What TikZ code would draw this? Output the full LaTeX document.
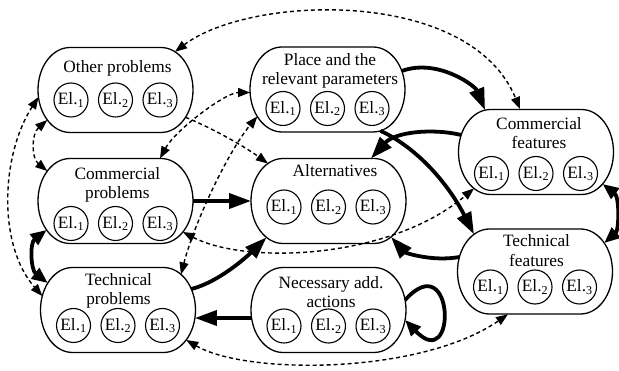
\documentclass[tikz,border=0pt]{standalone}
\usepackage{fontspec}
\setmainfont{Liberation Serif}
\newfontfamily\tnrfont{Liberation Serif}
\usetikzlibrary{arrows.meta}
\tikzset{
  boxnode/.style={minimum width=155pt, minimum height=85pt, inner sep=0pt, outer sep=0pt},
  boxline/.style={line width=1.3pt},
  ttl/.style={font=\tnrfont\fontsize{17.3}{19.5}\selectfont, align=center, inner sep=0pt},
  elc/.style={draw, circle, line width=1.1pt, minimum size=34pt, inner sep=0pt, font=\tnrfont\fontsize{17.3}{19.5}\selectfont},
  thk/.style={line width=3.8pt, -{Triangle[length=22pt,width=15pt]}},
  thkboth/.style={line width=3.8pt, {Triangle[length=16pt,width=13pt]}-{Triangle[length=16pt,width=13pt]}},
  thkloop/.style={line width=3.8pt, -{Triangle[length=16pt,width=13pt]}},
  dsh/.style={line width=1.4pt, dash pattern=on 4pt off 3pt, {Triangle[length=12pt,width=9pt]}-{Triangle[length=12pt,width=9pt]}},
  dsh1/.style={line width=1.4pt, dash pattern=on 4pt off 3pt, -{Triangle[length=12pt,width=9pt]}},
}
\begin{document}
\begin{tikzpicture}[x=1pt,y=-1pt]
\useasboundingbox (0,0) rectangle (619,371);
% boxes
\node[boxnode] (op) at (115.5,90) {};
\node[boxnode] (cp) at (115.5,201) {};
\node[boxnode] (tp) at (118,310) {};
\node[boxnode] (pl) at (327.5,89.5) {};
\node[boxnode] (al) at (328.5,201) {};
\node[boxnode] (na) at (328.5,310) {};
\node[boxnode] (cf) at (536,152) {};
\node[boxnode] (tf) at (535,271.5) {};
\foreach \b in {op,cp,tp,pl,al,na,cf,tf}{
  \draw[boxline] ([xshift=32pt]\b.north west) -- ([xshift=-32pt]\b.north east)
    arc[start angle=90, end angle=-90, x radius=32pt, y radius=42.5pt] -- ([xshift=32pt]\b.south west)
    arc[start angle=270, end angle=90, x radius=32pt, y radius=42.5pt] -- cycle;
}
% titles
\node[ttl] (opT) at (117.5,68.6) {\strut Other problems};
\node[ttl] (cpT) at (117.3,185.2) {\strut Commercial\\\strut problems};
\node[ttl] (tpT) at (118.5,290.9) {\strut Technical\\\strut problems};
\node[ttl] (plT) at (330,70.9) {\strut Place and the\\\strut relevant parameters};
\node[ttl] (alT) at (335,173.1) {\strut Alternatives};
\node[ttl] (naT) at (331,293.9) {\strut Necessary add.\\\strut actions};
\node[ttl] (cfT) at (539,135.2) {\strut Commercial\\\strut features};
\node[ttl] (tfT) at (536.5,252.6) {\strut Technical\\\strut features};
% element circles
\foreach \b/\x/\y in {op/115.5/100, cp/115.5/223.5, tp/118/325.5, pl/327.5/108.5, al/328.5/207, na/328.5/326, cf/536/173.5, tf/535/287}{
  \node[elc] (\b1) at (\x-44.5,\y) {El.\textsubscript{1}};
  \node[elc] (\b2) at (\x,\y) {El.\textsubscript{2}};
  \node[elc] (\b3) at (\x+44.5,\y) {El.\textsubscript{3}};
}
% dashed connectors
\draw[dsh] ([shift={(59.5,-38.2)}]op.center) .. controls +(75,-57) and +(-50,-122) .. ([shift={(-16,-43)}]cf.center);
\draw[dsh] ([shift={(-77,7)}]op.center) .. controls +(-37.5,58) and +(-45,-51) .. ([shift={(-75.7,-14)}]tp.center);
\draw[dsh] ([shift={(-68.2,30)}]op.center) .. controls +(-16,14) and +(-16,-13) .. ([shift={(-68.2,-30)}]cp.center);
\draw[dsh1] ([shift={(70,27.3)}]op.center) .. controls +(25,10) and +(-25,-18) .. ([shift={(-60.5,-37.5)}]al.center);
\draw[dsh] ([shift={(44.5,-42.5)}]cp.center) .. controls +(15,-28) and +(-25,0) .. ([shift={(-77.4,3)}]pl.center);
\draw[dsh] ([shift={(63,-35.6)}]tp.center) .. controls +(14,-54) and +(-28,33.5) .. ([shift={(-70.2,27)}]pl.center);
\draw[dsh] ([shift={(67.4,31)}]cp.center) .. controls +(63.5,33) and +(-84,71) .. ([shift={(-62,36.4)}]cf.center);
\draw[dsh] ([shift={(68.2,30)}]tp.center) .. controls +(60,35) and +(-88,60.5) .. ([shift={(-27,42.8)}]tf.center);
% thick connectors
\draw[thk] ([shift={(74.3,-18.5)}]pl.center) .. controls +(35.5,-13) and +(-10,-24.5) .. ([shift={(-51,-41.9)}]cf.center);
\draw[thk] ([shift={(53,41.3)}]pl.center) .. controls +(39.5,18.5) and +(-24,-47.2) .. ([shift={(-61,-37.2)}]tf.center);
\draw[thk] ([shift={(-74.8,-17)}]cf.center) .. controls +(-29,-7) and +(24,-26.5) .. ([shift={(42.5,-42.5)}]al.center);
\draw[thk] ([shift={(-75.6,-14.5)}]tf.center) .. controls +(-27.5,5) and +(14,15.5) .. ([shift={(62.5,36)}]al.center);
\draw[thkboth] ([shift={(66.6,32)}]cf.center) .. controls +(17,13) and +(15,-13) .. ([shift={(69.2,-28.5)}]tf.center);
\draw[thk] (cp.east) -- (al.west);
\draw[thkboth] ([shift={(-68.9,29)}]cp.center) .. controls +(-17,13) and +(-17,-13) .. ([shift={(-70.2,-27)}]tp.center);
\draw[thk] ([shift={(73.3,-21)}]tp.center) .. controls +(28,-7) and +(-18.5,18.2) .. ([shift={(-62,36.4)}]al.center);
\draw[thk] ([shift={(-76.9,8)}]na.center) -- ([shift={(76.9,8)}]tp.center);
\draw[thkloop] ([shift={(76.6,-10)}]na.center) .. controls +(49.5,-55) and +(52.5,55) .. ([shift={(76.6,10)}]na.center);
\end{tikzpicture}
\end{document}
